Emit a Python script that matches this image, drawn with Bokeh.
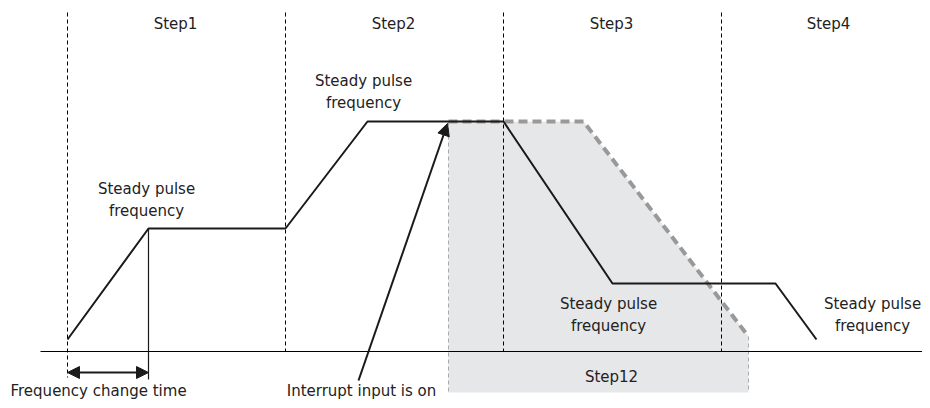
from bokeh.plotting import figure
from bokeh.models import Range1d, Arrow, NormalHead
from bokeh.core.properties import value
from bokeh.embed import file_html
from bokeh.resources import INLINE

# ---- data (time axis ~ px units, frequency up from baseline 0) ----
step_bounds = [67, 285, 503, 721]
step_bottoms = [-26, 0, 0, 0]
step_top = 339
step_labels = ["Step1", "Step2", "Step3", "Step4"]
step_label_t = [175, 393, 611, 828]
step_label_f = 328

profile_t = [67, 148, 285, 367, 503, 612, 775, 816]
profile_f = [12, 123, 123, 230, 230, 68, 68, 12]

decel_t = [448, 583, 748]
decel_f = [230, 230, 15]
step12_bottom = -41
step12_label = "Step12"
step12_label_t = 611
step12_label_f = -25

steady_t = [146, 363, 608, 872]
steady_f = [163, 271, 48, 48]
steady_lines = ["Steady pulse", "frequency"]

change_time_label = "Frequency change time"
interrupt_label = "Interrupt input is on"
bottom_label_f = -39
arrow_change = dict(t0=67, t1=148, f=-21)
interrupt_arrow = dict(t0=358, f0=-29, t1=447, f1=228)

FONT = value("DejaVu Sans")
FS = "15px"
TC = "#222222"

p = figure(width=922, height=400, output_backend="svg", toolbar_location=None,
           x_range=Range1d(0, 922), y_range=Range1d(-49, 351),
           min_border=0, outline_line_color=None)
p.axis.visible = False
p.grid.visible = False

# shaded Step12 region
poly_t = [decel_t[0], decel_t[1], decel_t[2], decel_t[2], decel_t[0]]
poly_f = [decel_f[0], decel_f[1], decel_f[2], step12_bottom, step12_bottom]
p.patch(poly_t, poly_f, fill_color="#e6e7e8", line_color=None)
p.segment(x0=[decel_t[0], decel_t[2]], y0=[decel_f[0], decel_f[2]],
          x1=[decel_t[0], decel_t[2]], y1=[step12_bottom, step12_bottom],
          line_color="#aaaaaa", line_width=1, line_dash="4 3")

# step boundaries
p.segment(x0=step_bounds, y0=[step_top]*4, x1=step_bounds, y1=step_bottoms,
          line_color="black", line_width=1, line_dash="4 3")

# baseline
p.segment(x0=[40], y0=[0], x1=[930], y1=[0], line_color="black", line_width=1)

# grey dashed deceleration
p.line(decel_t, decel_f, line_color="#999999", line_width=4, line_dash="9 5")

# profile
p.line(profile_t, profile_f, line_color="#1a1a1a", line_width=2)

# change-time vertical marker
p.segment(x0=[profile_t[1]], y0=[profile_f[1]], x1=[profile_t[1]], y1=[-28],
          line_color="#1a1a1a", line_width=1.2)

head = dict(size=12, fill_color="#1a1a1a", line_color="#1a1a1a")
p.add_layout(Arrow(x_start=arrow_change["t0"], y_start=arrow_change["f"],
                   x_end=arrow_change["t1"], y_end=arrow_change["f"],
                   start=NormalHead(**head), end=NormalHead(**head),
                   line_width=2, line_color="#1a1a1a"))
p.add_layout(Arrow(x_start=interrupt_arrow["t0"], y_start=interrupt_arrow["f0"],
                   x_end=interrupt_arrow["t1"], y_end=interrupt_arrow["f1"],
                   end=NormalHead(**head), line_width=2, line_color="#1a1a1a"))

# step labels
p.text(x=step_label_t, y=[step_label_f]*4, text=step_labels, text_font=FONT,
       text_font_size=FS, text_align="center", text_baseline="middle", text_color=TC)
p.text(x=[step12_label_t], y=[step12_label_f], text=[step12_label], text_font=FONT,
       text_font_size=FS, text_align="center", text_baseline="middle", text_color=TC)

for t, f in zip(steady_t, steady_f):
    p.text(x=[t, t], y=[f, f - 22], text=steady_lines, text_font=FONT,
           text_font_size=FS, text_align="center", text_baseline="middle", text_color=TC)

p.text(x=[10], y=[bottom_label_f], text=[change_time_label], text_font=FONT, text_font_size=FS,
       text_align="left", text_baseline="middle", text_color=TC)
p.text(x=[361], y=[bottom_label_f], text=[interrupt_label], text_font=FONT, text_font_size=FS,
       text_align="center", text_baseline="middle", text_color=TC)

open("out.html", "w").write(file_html(p, INLINE))
